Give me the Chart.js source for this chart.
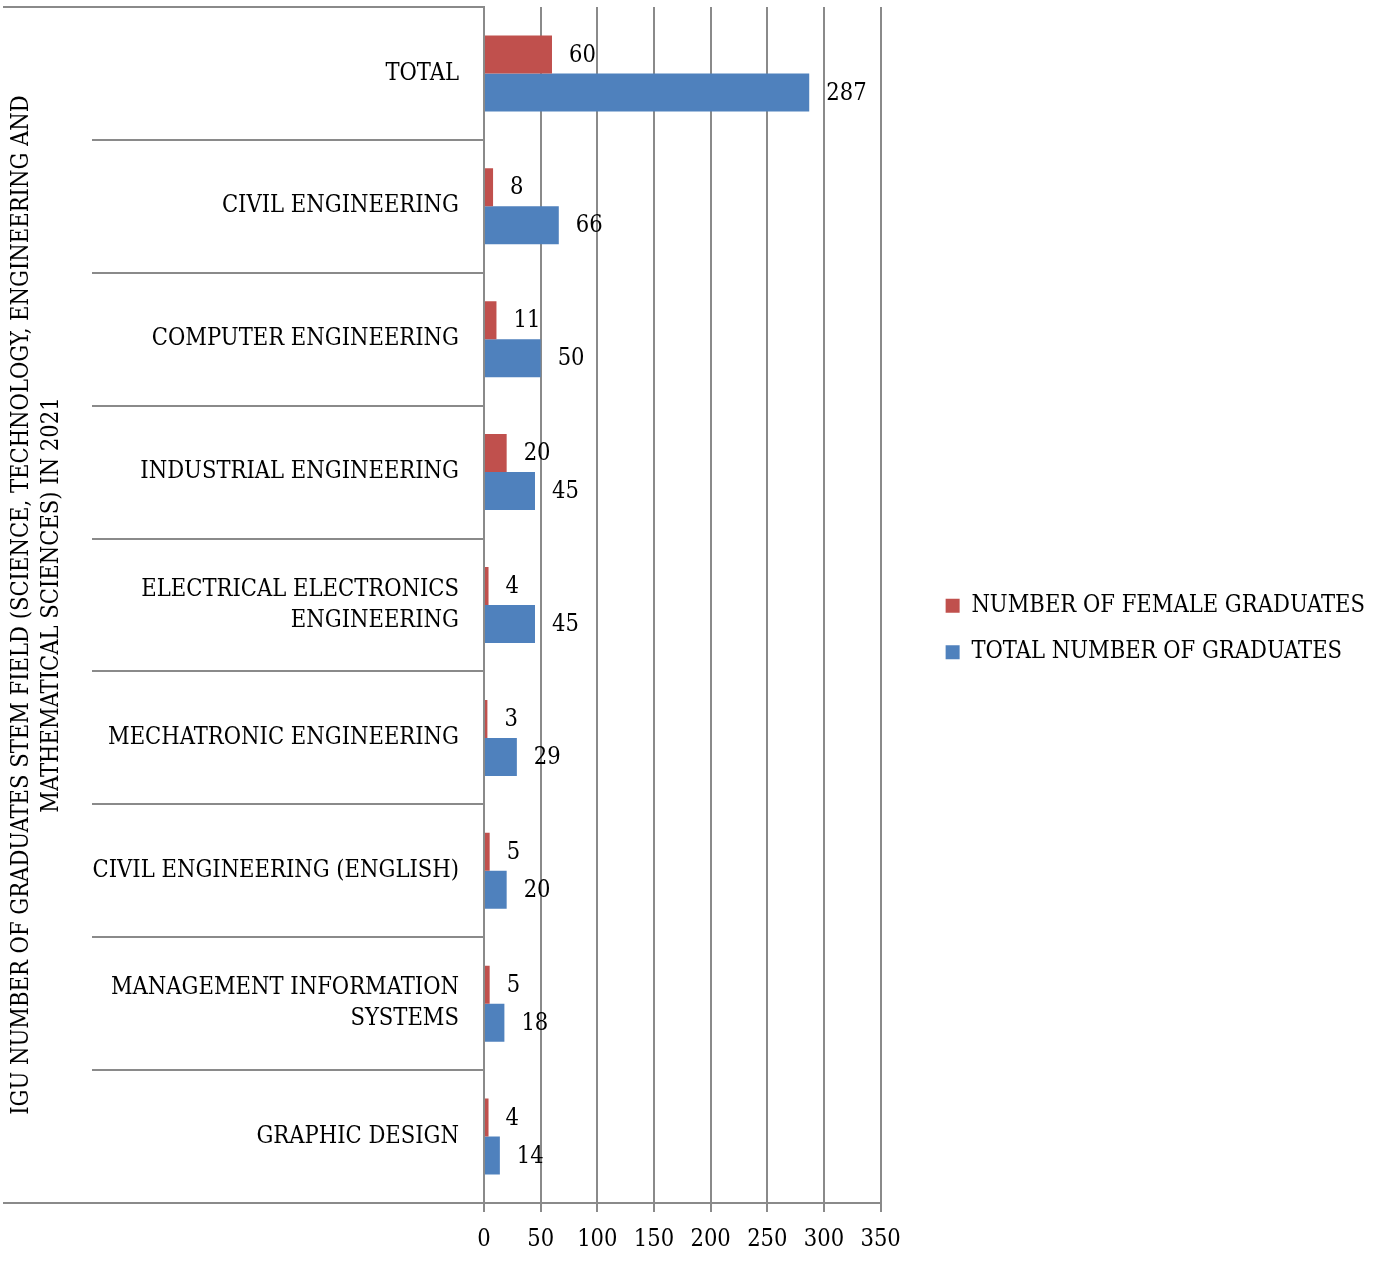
<!DOCTYPE html>
<html>
<head>
<meta charset="utf-8">
<title>IGU STEM graduates 2021</title>
<script src="https://cdn.jsdelivr.net/npm/chart.js@4"></script>
<style>
  html, body { margin: 0; padding: 0; background: #fff; }
  #wrap { width: 1375px; height: 1265px; position: relative; }
</style>
</head>
<body>
<div id="wrap"><canvas id="stemChart"></canvas></div>
<script>
// data
const programs = [
  'TOTAL',
  'CIVIL ENGINEERING',
  'COMPUTER ENGINEERING',
  'INDUSTRIAL ENGINEERING',
  ['ELECTRICAL ELECTRONICS', 'ENGINEERING'],
  'MECHATRONIC ENGINEERING',
  'CIVIL ENGINEERING (ENGLISH)',
  ['MANAGEMENT INFORMATION', 'SYSTEMS'],
  'GRAPHIC DESIGN'
];
const femaleGraduates = [60, 8, 11, 20, 4, 3, 5, 5, 4];
const totalGraduates = [287, 66, 50, 45, 45, 29, 20, 18, 14];
const axisTitle = [
  'IGU NUMBER OF GRADUATES STEM FIELD (SCIENCE, TECHNOLOGY, ENGINEERING AND',
  'MATHEMATICAL SCIENCES) IN 2021'
];

const FONT = '"DejaVu Serif Condensed", "Liberation Serif", serif';
const FSIZE = 23.5;
const GRID = '#8a8a8a';
const SEP_LEN = 392; // category separator lines reach into the label column

// value labels right of each bar
const valueLabels = {
  id: 'valueLabels',
  afterDatasetsDraw(chart) {
    const ctx = chart.ctx;
    ctx.save();
    ctx.font = FSIZE + 'px ' + FONT;
    ctx.fillStyle = '#000';
    ctx.textAlign = 'left';
    ctx.textBaseline = 'middle';
    chart.data.datasets.forEach((ds, i) => {
      chart.getDatasetMeta(i).data.forEach((bar, j) => {
        ctx.fillText(ds.data[j], bar.x + 17, bar.y + 1);
      });
    });
    ctx.restore();
  }
};

// top and bottom border lines continue under the axis title
const outerLines = {
  id: 'outerLines',
  afterDraw(chart) {
    const y = chart.scales.y;
    const ctx = chart.ctx;
    const x0 = y.right - SEP_LEN;
    ctx.save();
    ctx.strokeStyle = GRID;
    ctx.lineWidth = 2;
    ctx.beginPath();
    ctx.moveTo(3, y.top);
    ctx.lineTo(x0, y.top);
    ctx.moveTo(3, y.bottom);
    ctx.lineTo(x0, y.bottom);
    ctx.stroke();
    ctx.restore();
  }
};

const ctx = document.getElementById('stemChart').getContext('2d');
new Chart(ctx, {
  type: 'bar',
  data: {
    labels: programs,
    datasets: [
      {
        label: 'NUMBER OF FEMALE GRADUATES',
        data: femaleGraduates,
        backgroundColor: '#C0504D',
        borderWidth: 0
      },
      {
        label: 'TOTAL NUMBER OF GRADUATES',
        data: totalGraduates,
        backgroundColor: '#4F81BD',
        borderWidth: 0
      }
    ]
  },
  options: {
    indexAxis: 'y',
    responsive: true,
    maintainAspectRatio: false,
    animation: false,
    layout: { padding: { top: 7, bottom: 14, left: 0, right: 0 } },
    datasets: {
      bar: { categoryPercentage: 0.572, barPercentage: 1.0 }
    },
    scales: {
      x: {
        min: 0,
        max: 350,
        ticks: {
          stepSize: 50,
          color: '#000',
          padding: 14,
          font: { family: FONT, size: FSIZE }
        },
        grid: { color: GRID, lineWidth: 2, tickLength: 9, tickColor: GRID },
        border: { color: GRID, width: 2 },
        afterFit(scale) { scale.height = 48; }
      },
      y: {
        offset: true,
        ticks: {
          color: '#000',
          padding: -(SEP_LEN - 25),
          crossAlign: 'near',
          font: { family: FONT, size: FSIZE, lineHeight: 1.32 }
        },
        grid: {
          offset: true,
          drawOnChartArea: false,
          drawTicks: true,
          tickLength: SEP_LEN,
          color: GRID,
          tickColor: GRID,
          lineWidth: 2
        },
        border: { color: GRID, width: 2 },
        title: {
          display: true,
          text: axisTitle,
          color: '#000',
          padding: { top: 7, bottom: 0 },
          font: { family: FONT, size: FSIZE, lineHeight: 1.28 }
        },
        afterFit(scale) { scale.width = 484; }
      },
      // empty spacer between plot and legend
      spacer: {
        type: 'linear',
        axis: 'y',
        position: 'right',
        display: true,
        ticks: { display: false },
        grid: { display: false },
        border: { display: false },
        afterFit(scale) { scale.width = 42; }
      }
    },
    plugins: {
      legend: {
        position: 'right',
        maxWidth: 520,
        labels: {
          boxWidth: 14,
          boxHeight: 14,
          padding: 23,
          color: '#000',
          font: { family: FONT, size: FSIZE }
        }
      },
      tooltip: { enabled: false }
    }
  },
  plugins: [valueLabels, outerLines]
});
</script>
</body>
</html>
